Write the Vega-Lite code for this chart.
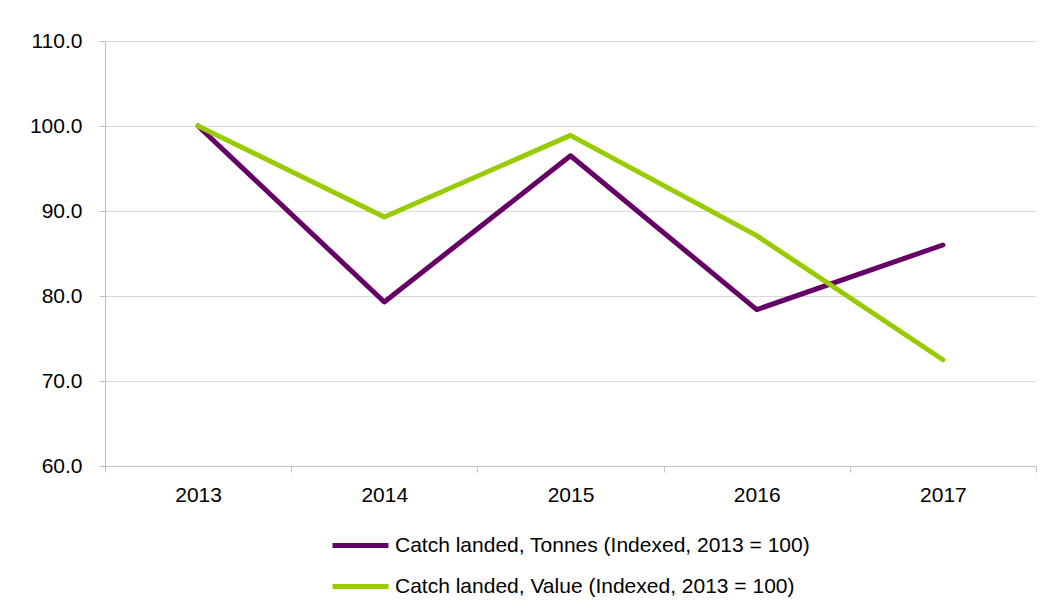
{
  "$schema": "https://vega.github.io/schema/vega-lite/v6.json",
  "autosize": "none",
  "width": 931,
  "height": 425,
  "padding": {"left": 105, "top": 41, "right": 16, "bottom": 144},
  "background": "white",
  "config": {
    "font": "Liberation Sans",
    "view": {"stroke": null},
    "axis": {"labelFont": "Liberation Sans", "labelFontSize": 21, "labelColor": "#000000", "domainColor": "#bfbfbf", "tickColor": "#bfbfbf", "tickSize": 6, "title": null}
  },
  "data": {
    "values": [
      {"year": "2013", "series": "Catch landed, Tonnes (Indexed, 2013 = 100)", "value": 100.0},
      {"year": "2014", "series": "Catch landed, Tonnes (Indexed, 2013 = 100)", "value": 79.3},
      {"year": "2015", "series": "Catch landed, Tonnes (Indexed, 2013 = 100)", "value": 96.5},
      {"year": "2016", "series": "Catch landed, Tonnes (Indexed, 2013 = 100)", "value": 78.4},
      {"year": "2017", "series": "Catch landed, Tonnes (Indexed, 2013 = 100)", "value": 86.0},
      {"year": "2013", "series": "Catch landed, Value (Indexed, 2013 = 100)", "value": 100.0},
      {"year": "2014", "series": "Catch landed, Value (Indexed, 2013 = 100)", "value": 89.3},
      {"year": "2015", "series": "Catch landed, Value (Indexed, 2013 = 100)", "value": 98.9},
      {"year": "2016", "series": "Catch landed, Value (Indexed, 2013 = 100)", "value": 87.1},
      {"year": "2017", "series": "Catch landed, Value (Indexed, 2013 = 100)", "value": 72.5}
    ]
  },
  "mark": {"type": "line", "strokeWidth": 5, "strokeCap": "round", "strokeJoin": "round"},
  "encoding": {
    "x": {
      "field": "year", "type": "ordinal",
      "scale": {"type": "band", "paddingInner": 0, "paddingOuter": 0},
      "axis": {"labelAngle": 0, "tickBand": "extent", "grid": false, "labelPadding": 12, "labelFontSize": 21}
    },
    "y": {
      "field": "value", "type": "quantitative",
      "scale": {"domain": [60, 110], "nice": false, "zero": false},
      "axis": {"values": [60, 70, 80, 90, 100, 110], "format": ".1f", "gridColor": "#d9d9d9", "labelPadding": 17, "labelFontSize": 21}
    },
    "color": {
      "field": "series", "type": "nominal",
      "scale": {"range": ["#660066", "#99cc00"]},
      "legend": {
        "title": null, "orient": "none", "legendX": 225, "legendY": 474,
        "symbolType": "stroke", "symbolSize": 3136, "symbolStrokeWidth": 5,
        "labelFontSize": 21, "labelColor": "#000000", "labelFont": "Liberation Sans",
        "labelOffset": 4, "rowPadding": -4, "padding": 0, "labelLimit": 0
      }
    }
  }
}
